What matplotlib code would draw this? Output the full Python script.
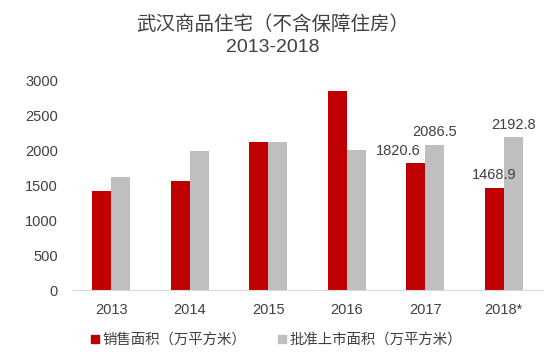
import numpy as np
import matplotlib.pyplot as plt
from matplotlib.lines import Line2D

plt.rcParams['font.family'] = ['Liberation Sans', 'Noto Sans CJK SC', 'DejaVu Sans']

years = ['2013', '2014', '2015', '2016', '2017', '2018*']
sales = [1425, 1565, 2130, 2852, 1820.6, 1468.9]
approved = [1622, 1995, 2130, 2014, 2086.5, 2192.8]
sales_label = '销售面积（万平方米）'
approved_label = '批准上市面积（万平方米）'

RED = '#C00000'
GREY = '#BFBFBF'
TEXT = '#404040'

fig = plt.figure(figsize=(5.46, 3.54), dpi=100)
ax = fig.add_axes([72/546, 1 - 290/354, 471/546, 209/354])

x = np.arange(len(years))
w = 0.24
ax.bar(x - w/2, sales, w, color=RED)
ax.bar(x + w/2, approved, w, color=GREY)

ax.set_xlim(-0.5, 5.5)
ax.set_ylim(0, 3000)
ax.set_yticks(range(0, 3001, 500))
ax.set_xticks(x)
ax.set_xticklabels(years)
ax.tick_params(axis='both', length=0, labelsize=10.5, labelcolor=TEXT)
ax.tick_params(axis='y', pad=10)
ax.tick_params(axis='x', pad=9)
for s in ['top', 'right', 'left']:
    ax.spines[s].set_visible(False)
ax.spines['bottom'].set_color('#D9D9D9')

# value labels for the last two years
for i in [4, 5]:
    dx = -13 if i == 4 else 0
    ax.annotate('{:.1f}'.format(sales[i]), (x[i] - w/2, sales[i]), xytext=(dx, 4),
                textcoords='offset points', ha='center', va='bottom',
                fontsize=10.5, color=TEXT)
    ax.annotate('{:.1f}'.format(approved[i]), (x[i] + w/2, approved[i]), xytext=(0, 4),
                textcoords='offset points', ha='center', va='bottom',
                fontsize=10.5, color=TEXT)

fig.text(0.5, 1 - 25/354, '武汉商品住宅（不含保障住房）', ha='center', va='center',
         fontsize=14, color=TEXT)
fig.text(0.5, 1 - 47/354, '2013-2018', ha='center', va='center',
         fontsize=14, color=TEXT)

handles = [Line2D([], [], marker='s', linestyle='none', color=RED, markersize=6),
           Line2D([], [], marker='s', linestyle='none', color=GREY, markersize=6)]
fig.legend(handles, [sales_label, approved_label], loc='center',
           bbox_to_anchor=(276/546, 1 - 340/354), ncol=2, frameon=False,
           handlelength=0.6, handletextpad=0.2, columnspacing=2.2,
           prop={'size': 10.4}, labelcolor=TEXT)

fig.savefig('out.png', dpi=100)
